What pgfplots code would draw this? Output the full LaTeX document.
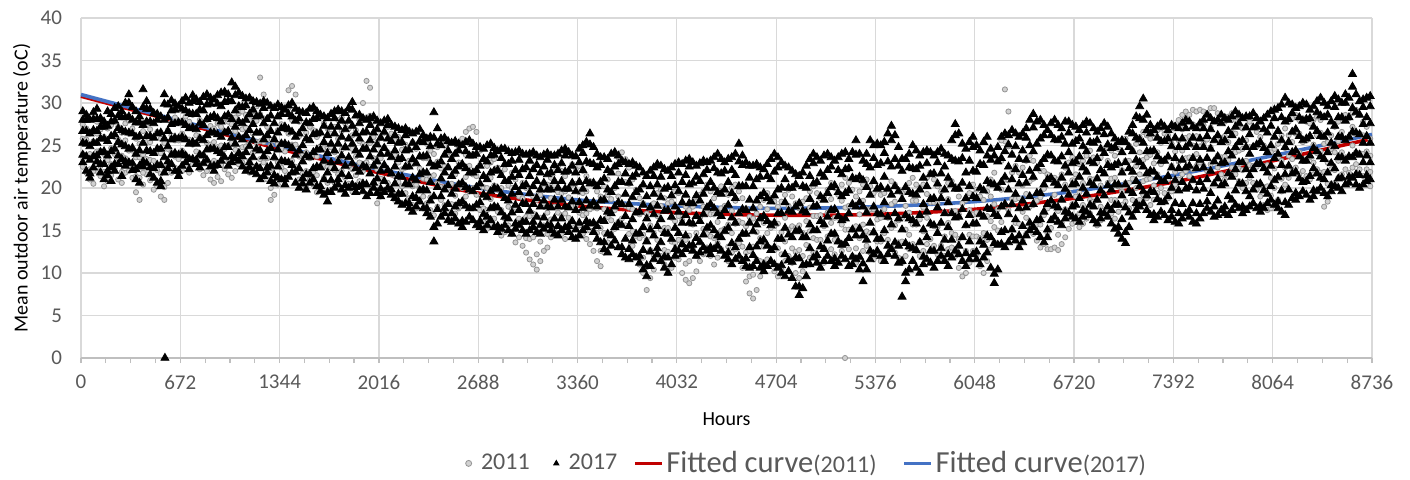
\documentclass[border=0pt]{standalone}
\usepackage{pgfplots}
\pgfplotsset{compat=1.18}
\usepackage{pgfplotstable}
\usepackage{fontspec}
\setmainfont{Carlito}

\definecolor{txt}{HTML}{595959}
\definecolor{grd}{HTML}{D9D9D9}
\definecolor{axl}{HTML}{BFBFBF}
\definecolor{fitA}{HTML}{C00000}
\definecolor{fitB}{HTML}{4472C4}

% one row per day: h = hour; a-d = 2011 readings; p-u = 2017 readings
\pgfplotstableread{
h a b c d p q r s t u
12 22.5 24.0 25.8 27.5 23.0 23.9 25.3 26.7 28.0 29.0
36 21.8 23.9 25.7 27.0 22.0 23.7 25.2 26.7 28.0 28.6
60 21.0 22.2 24.0 26.4 21.2 21.7 23.3 24.9 26.4 28.0
84 20.5 22.0 23.8 25.5 22.4 23.7 25.3 26.8 28.1 28.9
108 22.0 24.3 26.4 27.8 23.1 23.8 25.3 26.7 28.1 29.3
132 21.4 22.6 24.4 26.9 21.8 22.8 24.2 25.8 27.2 28.2
156 20.2 21.9 24.0 26.0 21.0 22.8 24.3 25.8 27.2 27.8
180 20.8 23.3 25.5 27.0 21.5 22.0 23.8 25.5 27.3 29.0
204 21.5 22.8 24.7 27.4 20.8 22.4 24.3 26.1 27.8 28.7
228 22.3 24.0 26.0 28.0 22.0 22.8 24.6 26.3 27.9 29.4
252 21.0 23.5 25.7 27.2 22.8 23.8 25.4 27.0 28.5 29.6
276 20.6 21.9 23.8 26.5 21.4 23.4 25.1 26.8 28.3 29.0
300 21.8 23.5 25.6 27.6 22.6 23.1 24.9 26.6 28.3 30.0
324 22.0 24.4 26.4 27.9 23.0 24.6 26.5 28.4 30.0 31.0
348 21.2 22.5 24.4 27.0 22.1 22.9 24.7 26.4 28.0 29.5
372 19.5 21.4 23.6 25.8 21.0 22.2 24.0 26.0 27.7 29.0
396 18.6 21.2 23.6 25.2 20.6 22.6 24.4 26.1 27.7 28.4
420 20.4 21.8 23.9 26.7 22.5 23.1 25.3 27.4 29.5 31.6
444 21.6 23.4 25.4 27.5 22.9 24.4 26.1 27.8 29.3 30.2
468 20.9 23.3 25.4 26.9 21.6 22.4 24.3 26.1 27.8 29.3
492 19.8 21.2 23.2 26.0 21.2 22.3 24.1 25.9 27.6 28.8
516 20.2 22.1 24.4 26.6 20.6 22.7 24.6 26.4 28.0 28.7
540 19.0 21.7 24.1 25.8 20.2 20.8 22.7 24.6 26.5 28.4
564 18.6 20.1 22.3 25.3 21.8 23.6 25.8 28.0 29.9 31.0
588 20.6 22.5 24.6 26.8 22.3 23.1 24.9 26.7 28.3 29.8
612 21.8 24.2 26.2 27.7 22.8 23.9 25.7 27.5 29.1 30.3
636 22.4 23.7 25.6 28.3 22.0 24.1 25.9 27.6 29.2 29.9
660 21.5 23.4 25.6 27.8 21.4 22.0 23.9 25.8 27.7 29.6
684 22.0 24.4 26.4 27.9 22.6 24.1 26.0 27.7 29.3 30.2
708 22.6 23.9 25.8 28.4 23.0 23.8 25.7 27.4 29.1 30.6
732 21.8 23.6 25.7 27.8 22.2 23.4 25.2 27.0 28.8 30.0
756 22.8 25.1 27.2 28.6 23.4 25.4 27.1 28.7 30.2 30.9
780 23.0 24.3 26.2 28.8 22.8 23.3 25.2 26.9 28.7 30.4
804 22.2 24.0 26.0 28.0 22.4 23.9 25.8 27.6 29.2 30.1
828 21.5 23.9 25.9 27.4 22.9 23.8 25.6 27.4 29.1 30.7
852 22.0 23.3 25.3 28.0 23.3 24.5 26.2 28.1 29.8 31.0
876 21.0 22.9 25.1 27.3 22.5 24.6 26.5 28.3 29.9 30.6
900 20.6 23.2 25.4 27.0 22.0 22.6 24.6 26.5 28.5 30.4
924 21.3 22.7 24.8 27.6 22.7 24.3 26.3 28.2 29.9 30.9
948 20.8 22.7 25.0 27.2 23.2 24.1 26.0 27.8 29.6 31.2
972 22.2 24.6 26.7 28.2 23.6 24.8 26.5 28.4 30.1 31.3
996 21.6 23.0 25.0 27.8 22.6 24.8 26.7 28.6 30.2 31.0
1020 21.2 23.1 25.3 27.5 23.0 23.7 25.9 28.1 30.2 32.4
1044 22.0 24.5 26.7 28.3 23.5 25.2 27.2 29.1 30.9 31.9
1068 22.8 24.1 26.1 28.8 23.2 24.1 26.0 27.8 29.6 31.2
1092 23.0 24.8 26.9 29.0 22.5 23.7 25.7 27.6 29.5 30.8
1116 22.5 24.9 27.1 28.6 22.0 24.2 26.2 28.0 29.7 30.5
1140 21.8 23.2 25.2 28.0 22.4 23.0 24.9 26.8 28.7 30.6
1164 22.4 24.2 26.4 28.5 21.9 23.6 25.6 27.5 29.2 30.2
1188 22.6 25.4 27.9 29.6 21.6 22.5 24.6 26.5 28.4 30.1
1212 23.4 25.5 28.7 33.0 21.0 22.3 24.4 26.5 28.5 29.9
1236 23.0 25.4 28.2 31.0 21.4 23.7 25.7 27.6 29.4 30.2
1260 21.0 23.5 25.7 27.2 21.8 22.4 24.3 26.2 28.1 30.0
1284 18.6 20.0 22.1 25.0 20.8 22.6 24.7 26.7 28.5 29.6
1308 19.2 21.2 23.5 25.8 20.5 21.5 23.6 25.7 27.6 29.4
1332 20.4 23.0 25.2 26.8 21.2 22.5 24.5 26.5 28.4 29.8
1356 21.0 22.4 24.6 27.5 21.0 23.2 25.2 27.0 28.7 29.5
1380 22.0 24.3 26.9 29.5 20.4 21.0 23.1 25.2 27.2 29.2
1404 23.0 26.4 29.4 31.5 21.3 23.0 25.0 26.9 28.7 29.7
1428 23.2 25.1 28.0 32.0 21.8 22.7 24.7 26.6 28.4 30.0
1452 22.5 25.1 28.0 31.0 20.6 21.9 23.9 26.0 27.9 29.3
1476 21.0 23.7 26.1 27.8 20.0 22.3 24.4 26.4 28.2 29.0
1500 20.2 21.7 24.0 27.0 20.5 21.1 23.1 25.0 27.0 28.9
1524 20.0 22.0 24.2 26.5 19.8 21.6 23.8 25.8 27.7 28.8
1548 21.0 23.5 25.7 27.2 20.6 21.6 23.6 25.6 27.6 29.3
1572 20.4 21.8 23.9 26.8 21.0 22.3 24.2 26.3 28.1 29.5
1596 19.5 21.5 23.7 26.0 20.2 22.5 24.5 26.4 28.2 29.0
1620 20.0 22.6 24.9 26.5 19.6 20.2 22.4 24.5 26.5 28.6
1644 21.2 22.6 24.7 27.6 19.2 21.0 23.2 25.4 27.3 28.4
1668 20.6 22.5 24.8 27.0 18.4 19.5 21.8 24.1 26.2 28.2
1692 19.8 22.4 24.8 26.4 19.5 20.9 23.0 25.2 27.2 28.7
1716 20.6 22.1 24.2 27.2 20.0 22.3 24.4 26.4 28.2 29.0
1740 21.6 23.5 25.8 28.0 20.4 21.0 23.1 25.2 27.2 29.2
1764 22.0 24.5 26.7 28.3 19.8 21.6 23.8 26.0 27.9 29.0
1788 21.2 22.6 24.7 27.6 19.3 20.3 22.6 24.8 26.9 28.8
1812 20.5 22.5 24.7 27.0 20.0 21.4 23.6 25.8 27.9 29.4
1836 19.6 22.2 24.6 26.2 20.4 22.9 25.2 27.3 29.2 30.1
1860 20.0 21.5 23.7 26.8 19.5 20.1 22.3 24.4 26.4 28.5
1884 20.8 23.0 25.5 28.0 20.2 21.9 23.9 25.8 27.6 28.6
1908 22.0 25.2 28.0 30.0 19.6 20.5 22.6 24.6 26.5 28.2
1932 23.0 25.1 28.3 32.6 19.0 20.4 22.4 24.6 26.6 28.0
1956 22.5 25.3 28.5 31.8 19.4 21.7 23.7 25.6 27.4 28.2
1980 20.6 23.5 26.0 27.8 20.0 20.6 22.6 24.5 26.5 28.4
2004 18.2 19.8 22.2 25.4 19.4 21.1 23.1 25.1 26.9 27.9
2028 19.0 21.1 23.5 25.9 19.0 19.9 22.0 24.0 25.9 27.6
2052 19.8 22.5 24.8 26.5 19.5 20.8 22.7 24.7 26.6 27.9
2076 20.6 22.1 24.2 27.2 20.0 22.1 24.0 25.8 27.4 28.1
2100 19.6 21.6 24.0 26.4 19.2 19.8 21.7 23.6 25.5 27.4
2124 18.6 21.4 23.9 25.6 18.8 20.5 22.5 24.4 26.2 27.2
2148 19.2 20.7 23.0 26.0 18.4 19.3 21.4 23.4 25.3 27.0
2172 20.2 22.2 24.5 26.8 18.0 19.3 21.3 23.5 25.4 26.8
2196 19.4 22.4 25.1 27.0 18.2 20.5 22.5 24.4 26.2 27.0
2220 18.8 20.6 23.2 26.8 17.6 18.2 20.4 22.5 24.5 26.6
2244 18.0 20.2 22.8 25.4 17.2 19.0 21.2 23.4 25.3 26.4
2268 17.6 20.4 22.9 24.6 17.8 18.8 20.9 22.9 24.8 26.6
2292 18.4 19.9 22.3 25.4 18.4 19.7 21.6 23.7 25.5 26.9
2316 19.0 21.1 23.5 25.9 17.6 19.8 21.8 23.7 25.4 26.2
2340 18.2 21.0 23.5 25.2 17.0 17.6 19.7 21.8 23.8 25.8
2364 17.4 18.9 21.3 24.4 16.6 18.5 20.7 22.9 24.9 26.0
2388 16.8 19.0 21.5 24.0 13.7 15.4 19.0 22.5 25.9 28.9
2412 17.8 20.6 23.1 24.8 15.8 17.5 20.1 22.7 25.2 27.0
2436 18.6 20.1 22.3 25.4 16.6 19.0 21.1 23.1 25.0 25.8
2460 18.0 20.1 22.6 25.0 17.0 17.6 19.8 21.8 23.9 25.9
2484 17.2 20.0 22.5 24.2 16.2 18.1 20.3 22.4 24.4 25.5
2508 16.6 18.1 20.5 23.6 16.0 17.0 19.3 21.4 23.4 25.3
2532 17.0 19.1 21.6 24.0 16.4 17.8 19.9 22.0 24.0 25.5
2556 17.6 20.5 23.0 24.8 15.8 18.2 20.4 22.5 24.4 25.2
2580 18.4 20.0 22.5 25.8 15.4 16.1 18.4 20.6 22.8 25.0
2604 19.0 21.3 23.9 26.6 16.0 17.9 20.1 22.3 24.3 25.4
2628 19.6 22.6 25.2 27.0 16.6 17.6 19.8 21.8 23.8 25.6
2652 20.0 21.6 24.0 27.2 16.2 17.6 19.6 21.8 23.8 25.2
2676 19.2 21.4 24.0 26.6 15.6 18.0 20.1 22.1 24.0 24.8
2700 17.4 20.2 22.7 24.4 15.4 16.1 18.3 20.5 22.6 24.8
2724 16.0 17.6 20.1 23.4 15.0 16.9 19.2 21.4 23.4 24.6
2748 15.2 17.4 20.0 22.6 15.6 16.6 18.9 21.0 23.1 25.0
2772 15.8 18.7 21.2 23.0 16.2 17.6 19.6 21.8 23.8 25.2
2796 16.4 17.9 20.3 23.4 15.4 17.8 20.0 22.0 23.9 24.7
2820 15.0 17.2 19.8 22.4 14.8 15.5 17.7 19.9 22.1 24.3
2844 14.4 17.4 20.0 21.8 15.2 17.1 19.3 21.5 23.5 24.6
2868 14.8 16.4 18.9 22.2 15.6 16.6 18.8 20.8 22.8 24.6
2892 15.6 17.8 20.3 22.8 15.0 16.4 18.5 20.8 22.8 24.3
2916 14.6 17.5 20.0 21.8 14.6 17.1 19.3 21.3 23.2 24.1
2940 13.6 15.2 17.7 21.0 15.2 15.8 18.0 20.1 22.1 24.2
2964 14.2 16.4 19.0 21.6 15.6 17.4 19.5 21.5 23.3 24.4
2988 13.2 16.2 18.8 20.6 15.0 16.0 18.2 20.2 22.2 24.0
3012 12.4 14.1 16.6 20.0 14.6 16.0 18.1 20.4 22.4 23.9
3036 11.6 14.0 16.7 19.4 15.0 17.3 19.4 21.4 23.2 24.0
3060 11.0 14.2 17.0 19.0 15.4 16.0 18.1 20.2 22.2 24.2
3084 10.4 12.2 14.9 18.6 14.8 16.6 18.8 20.8 22.7 23.8
3108 11.4 13.7 16.5 19.2 14.6 15.6 17.8 19.8 21.8 23.6
3132 12.6 15.6 18.2 20.0 15.2 16.5 18.5 20.6 22.5 23.9
3156 13.0 14.6 17.1 20.4 15.6 17.8 19.8 21.6 23.3 24.1
3180 14.2 16.3 18.8 21.2 15.0 15.6 17.7 19.8 21.8 23.8
3204 15.0 17.8 20.3 22.0 14.6 16.4 18.6 20.8 22.7 23.8
3228 15.6 17.1 19.5 22.6 14.4 15.5 17.8 20.0 22.1 24.0
3252 14.6 16.8 19.4 22.0 15.0 16.4 18.6 20.8 22.9 24.4
3276 14.0 17.0 19.6 21.4 15.4 17.8 19.9 21.9 23.8 24.6
3300 15.0 16.5 18.9 22.0 14.8 15.5 17.7 19.9 22.0 24.2
3324 15.8 17.9 20.4 22.8 14.2 16.1 18.4 20.6 22.6 23.8
3348 15.2 18.0 20.5 22.2 14.0 15.1 17.4 19.6 21.8 23.7
3372 15.6 17.1 19.5 22.6 14.4 15.9 18.3 20.7 23.0 24.6
3396 14.6 16.8 19.4 22.0 15.0 17.6 19.9 22.1 24.1 25.0
3420 14.0 17.0 19.6 21.4 15.4 16.1 18.5 20.8 23.1 25.4
3444 13.4 15.0 17.5 20.8 15.8 17.9 20.5 22.9 25.1 26.4
3468 12.6 15.0 17.7 20.4 14.8 15.9 18.3 20.6 22.8 24.8
3492 11.4 14.7 17.6 19.6 14.0 15.5 17.8 20.2 22.4 24.0
3516 10.8 12.6 15.3 19.0 13.6 16.2 18.5 20.7 22.7 23.6
3540 12.4 14.7 17.5 20.2 12.8 13.6 16.1 18.6 21.1 23.6
3564 13.6 16.6 19.2 21.0 12.4 14.6 17.2 19.8 22.1 23.4
3588 14.6 16.2 18.7 22.0 13.2 14.4 17.0 19.5 21.8 24.0
3612 15.2 17.4 20.0 22.6 13.8 15.4 17.8 20.2 22.5 24.2
3636 16.0 19.0 21.7 23.6 13.0 15.8 18.3 20.7 22.8 23.8
3660 16.4 18.1 20.7 24.2 12.2 13.0 15.6 18.1 20.7 23.2
3684 15.6 17.9 20.7 23.4 11.8 14.0 16.7 19.3 21.7 23.0
3708 14.6 17.7 20.5 22.4 11.6 12.8 15.5 18.1 20.6 22.8
3732 13.2 14.9 17.5 21.0 12.2 13.8 16.3 18.9 21.3 23.0
3756 12.0 14.3 17.1 19.8 11.8 14.6 17.1 19.5 21.6 22.6
3780 11.0 14.1 16.9 18.8 11.2 12.0 14.7 17.2 19.8 22.4
3804 10.0 11.8 14.5 18.2 10.4 12.7 15.4 18.0 20.4 21.8
3828 8.0 10.7 13.9 17.0 9.6 10.9 13.7 16.4 19.0 21.4
3852 9.4 12.7 15.6 17.6 10.8 12.5 15.1 17.7 20.2 22.0
3876 10.4 12.1 14.7 18.2 11.6 14.4 16.9 19.3 21.4 22.4
3900 11.6 13.9 16.7 19.4 12.2 12.9 15.5 17.9 20.4 22.8
3924 12.0 15.1 17.9 19.8 11.4 13.6 16.3 18.9 21.3 22.6
3948 11.0 12.7 15.3 18.8 10.6 11.9 14.7 17.3 19.9 22.2
3972 10.0 12.5 15.3 18.2 10.0 11.8 14.6 17.4 20.1 22.0
3996 10.6 13.7 16.5 18.4 11.0 14.0 16.6 19.1 21.4 22.4
4020 11.8 13.5 16.1 19.6 12.0 12.8 15.3 17.8 20.3 22.8
4044 11.6 13.9 16.7 19.4 12.6 14.7 17.2 19.6 21.8 23.0
4068 10.0 13.3 16.2 18.2 12.2 13.4 15.9 18.3 20.7 22.8
4092 9.2 11.1 13.9 17.8 12.8 14.4 16.8 19.2 21.5 23.2
4116 8.8 11.4 14.4 17.4 13.2 15.9 18.2 20.4 22.5 23.4
4140 9.4 12.8 15.7 17.8 12.6 13.3 15.8 18.2 20.6 23.0
4164 10.2 12.0 14.7 18.4 12.0 14.1 16.7 19.1 21.3 22.6
4188 11.4 13.7 16.5 19.2 12.4 13.6 16.1 18.5 20.8 22.9
4212 12.2 15.2 17.8 19.6 13.0 14.5 16.9 19.3 21.6 23.2
4236 13.0 14.6 17.1 20.4 12.6 15.3 17.7 20.0 22.1 23.0
4260 12.0 14.3 16.9 19.6 12.2 13.0 15.6 18.1 20.7 23.2
4284 11.0 14.1 16.9 18.8 12.8 15.0 17.6 20.0 22.3 23.6
4308 11.8 13.5 16.0 19.4 13.2 14.4 17.0 19.5 21.8 24.0
4332 12.8 15.0 17.6 20.2 12.6 14.2 16.7 19.3 21.7 23.4
4356 12.2 15.2 17.9 19.8 12.0 14.9 17.4 19.8 22.0 23.0
4380 11.4 13.1 15.7 19.2 11.6 12.4 15.3 18.0 20.7 23.4
4404 12.4 14.7 17.3 20.0 11.0 13.5 16.5 19.4 22.1 23.6
4428 12.8 15.8 18.5 20.4 11.6 13.0 15.9 18.8 21.5 24.0
4452 11.8 13.5 16.1 19.6 12.0 14.0 17.0 20.2 23.1 25.2
4476 10.6 13.1 15.9 18.8 11.4 14.6 17.5 20.2 22.7 23.8
4500 9.0 12.4 15.5 17.6 10.8 11.7 14.6 17.4 20.2 23.0
4524 7.6 9.6 12.6 16.6 10.6 13.0 15.9 18.6 21.2 22.6
4548 7.0 9.8 13.1 16.4 10.8 12.1 14.9 17.6 20.2 22.6
4572 8.0 11.6 14.8 17.0 11.4 13.1 15.7 18.5 21.0 22.8
4596 9.6 11.4 14.1 17.8 10.6 13.7 16.4 19.0 21.3 22.4
4620 10.8 13.1 15.9 18.6 10.2 11.0 13.9 16.7 19.4 22.2
4644 11.6 14.7 17.5 19.4 10.8 13.2 16.1 18.8 21.4 22.8
4668 11.0 12.7 15.3 18.8 11.4 12.7 15.6 18.4 21.0 23.4
4692 10.2 12.7 15.5 18.4 11.0 13.0 15.9 19.1 21.9 24.0
4716 9.6 12.9 15.8 17.8 10.6 14.0 17.0 19.8 22.4 23.6
4740 10.4 12.2 14.8 18.4 10.0 10.9 14.0 17.0 20.0 23.0
4764 11.4 13.7 16.5 19.2 9.6 12.2 15.3 18.3 21.0 22.6
4788 12.0 15.1 17.9 19.8 10.2 11.5 14.5 17.3 20.0 22.4
4812 11.2 12.9 15.5 19.0 9.4 11.3 14.2 17.2 20.0 22.0
4836 10.0 12.5 15.3 18.2 8.4 11.8 14.9 17.8 20.4 21.6
4860 9.4 12.7 15.6 17.6 7.4 8.4 11.7 15.0 18.2 21.4
4884 10.2 12.0 14.7 18.4 8.2 10.9 14.2 17.3 20.2 21.8
4908 11.0 13.3 16.1 18.8 9.6 11.0 14.2 17.1 20.0 22.6
4932 11.8 14.9 17.7 19.6 11.0 12.9 15.7 18.7 21.4 23.4
4956 12.4 14.1 16.7 20.2 11.8 15.0 17.8 20.5 22.9 24.0
4980 11.6 13.9 16.7 19.4 11.2 12.1 15.0 17.9 20.7 23.6
5004 10.6 13.9 16.8 18.8 10.6 13.1 16.1 19.0 21.7 23.2
5028 11.2 12.9 15.5 19.0 11.4 12.8 15.7 18.6 21.3 23.8
5052 12.0 14.3 17.1 19.8 12.0 13.8 16.6 19.4 22.1 24.0
5076 12.8 15.9 18.7 20.6 11.4 14.6 17.4 20.1 22.5 23.6
5100 12.2 13.9 16.5 20.0 10.8 11.7 14.6 17.5 20.3 23.2
5124 11.4 13.7 16.5 19.2 11.2 13.7 16.7 19.5 22.1 23.6
5148 12.6 15.7 18.5 20.4 12.0 13.3 16.2 19.0 21.6 24.0
5172 13.4 15.1 17.7 21.2 11.6 13.5 16.4 19.4 22.2 24.2
5196 12.8 15.1 17.9 20.6 10.8 14.1 17.0 19.7 22.3 23.4
5220 12.0 15.1 17.9 19.8 11.0 11.9 15.1 18.1 21.2 24.2
5244 11.2 12.9 15.5 19.0 11.6 14.4 17.8 21.0 23.9 25.6
5268 11.8 14.1 16.9 19.6 10.4 11.9 15.2 18.3 21.3 24.0
5292 12.6 15.7 18.5 20.4 9.0 11.1 14.4 17.8 20.9 23.2
5316 13.2 14.9 17.5 21.0 10.4 13.9 17.1 20.1 22.8 24.0
5340 12.4 14.7 17.5 20.2 11.6 12.6 15.9 19.2 22.4 25.6
5364 11.6 14.7 17.5 19.4 12.2 14.8 17.8 20.8 23.5 25.0
5388 12.0 13.7 16.3 19.8 12.6 14.0 17.0 19.9 22.7 25.2
5412 11.4 13.7 16.5 19.2 12.0 14.0 16.9 20.1 22.9 25.0
5436 11.6 14.7 17.5 19.4 11.4 15.0 18.3 21.3 24.1 25.4
5460 12.2 13.9 16.5 20.0 12.2 13.2 16.6 19.9 23.1 26.4
5484 13.0 15.3 18.1 20.8 12.8 15.7 19.2 22.5 25.6 27.3
5508 12.4 15.6 18.4 20.4 12.0 13.6 17.0 20.2 23.4 26.2
5532 11.8 13.6 16.2 19.8 11.2 13.2 16.4 19.6 22.6 24.8
5556 11.2 13.7 16.5 19.4 7.2 11.4 15.1 18.7 22.0 23.4
5580 12.0 15.1 17.9 19.8 9.0 10.0 13.5 16.8 20.1 23.4
5604 12.8 14.5 17.1 20.6 10.4 13.1 16.4 19.5 22.4 24.0
5628 13.4 15.7 18.5 21.2 11.4 12.9 16.2 19.3 22.3 25.0
5652 12.6 15.7 18.5 20.4 10.6 12.7 15.8 19.2 22.2 24.4
5676 12.0 13.7 16.3 19.8 10.0 13.6 16.8 19.8 22.6 23.8
5700 12.6 14.9 17.7 20.4 11.0 11.9 15.1 18.1 21.2 24.2
5724 13.4 16.5 19.3 21.2 11.6 14.2 17.2 20.2 22.9 24.4
5748 14.0 15.7 18.3 21.8 11.2 12.6 15.8 18.7 21.6 24.2
5772 13.2 15.5 18.3 21.0 10.6 12.6 15.6 18.8 21.7 23.8
5796 12.2 15.4 18.2 20.2 11.4 14.7 17.7 20.5 23.0 24.2
5820 11.4 13.2 15.9 19.6 12.0 12.9 15.9 18.8 21.7 24.6
5844 12.0 14.3 17.1 19.8 11.4 13.9 17.0 19.8 22.5 24.0
5868 12.8 15.9 18.7 20.6 10.8 12.2 15.4 18.3 21.2 23.8
5892 13.0 14.7 17.3 20.8 11.8 13.9 17.0 20.4 23.4 25.6
5916 12.0 14.5 17.3 20.2 12.6 16.5 19.9 23.2 26.2 27.5
5940 10.6 14.0 16.9 19.0 12.2 13.2 16.6 19.9 23.1 26.4
5964 9.6 11.5 14.3 18.2 11.4 14.2 17.5 20.6 23.5 25.2
5988 10.0 12.6 15.6 18.6 10.8 12.3 15.6 18.8 21.8 24.6
6012 11.2 14.5 17.4 19.4 11.6 13.7 16.8 20.2 23.2 25.4
6036 12.6 14.3 16.9 20.4 12.2 15.8 19.0 22.0 24.8 26.0
6060 12.0 14.3 17.1 19.8 11.6 12.5 15.8 18.8 21.9 25.0
6084 10.8 14.1 17.0 19.0 11.0 13.7 16.9 20.0 22.8 24.4
6108 10.0 11.9 14.7 18.6 11.8 13.3 16.6 19.7 22.7 25.4
6132 11.4 13.9 16.7 19.6 12.4 14.4 17.6 20.8 23.8 26.0
6156 12.8 16.1 19.0 21.0 10.6 14.2 17.5 20.5 23.3 24.6
6180 13.6 15.4 18.1 21.8 8.8 9.9 13.5 16.9 20.4 23.8
6204 15.0 17.5 20.3 23.2 10.4 13.3 16.7 20.0 23.1 24.8
6228 16.0 19.8 23.2 25.6 13.4 14.8 17.8 20.7 23.5 26.0
6252 18.0 21.0 25.5 31.6 13.0 15.0 18.1 21.3 24.3 26.4
6276 17.4 20.9 24.9 29.0 13.6 16.9 19.8 22.5 25.1 26.2
6300 15.2 18.7 21.8 24.0 14.2 15.1 18.1 21.0 23.9 26.8
6324 14.0 15.9 18.7 22.6 13.8 16.3 19.3 22.2 24.9 26.4
6348 13.2 15.8 18.8 21.8 13.0 14.4 17.6 20.5 23.4 26.0
6372 13.8 17.2 20.3 22.4 13.6 15.5 18.5 21.5 24.4 26.4
6396 14.6 16.5 19.3 23.2 14.4 17.7 20.6 23.3 25.9 27.0
6420 15.2 17.8 20.8 23.8 15.0 15.9 19.0 22.0 25.0 28.0
6444 14.6 18.0 21.1 23.2 15.4 18.1 21.3 24.3 27.1 28.7
6468 13.8 15.7 18.5 22.4 14.8 16.2 19.4 22.3 25.2 27.8
6492 13.0 15.7 18.9 22.0 14.2 16.3 19.4 22.8 25.8 28.0
6516 13.4 16.8 19.9 22.0 13.6 17.2 20.4 23.4 26.2 27.4
6540 12.8 14.7 17.6 21.6 14.2 15.1 18.1 21.0 23.9 26.8
6564 12.8 15.3 18.1 21.0 16.2 18.5 21.2 23.8 26.2 27.6
6588 13.0 16.3 19.2 21.2 16.6 17.9 20.6 23.2 25.7 28.0
6612 12.7 14.5 17.3 21.0 16.0 17.7 20.3 23.1 25.6 27.4
6636 13.4 15.9 18.7 21.6 15.6 18.6 21.2 23.7 26.0 27.0
6660 14.2 17.5 20.4 22.4 16.4 17.2 19.9 22.6 25.2 27.8
6684 15.2 16.9 19.5 23.0 17.0 19.2 21.8 24.2 26.5 27.8
6708 15.8 18.1 20.9 23.6 16.6 17.8 20.4 22.9 25.2 27.4
6732 16.0 19.0 21.6 23.4 16.4 18.0 20.5 23.1 25.5 27.2
6756 15.4 17.0 19.5 22.8 16.0 18.8 21.3 23.7 25.8 26.8
6780 15.8 18.0 20.6 23.2 16.6 17.4 20.0 22.4 24.9 27.4
6804 16.4 19.4 22.0 23.8 17.2 19.3 21.9 24.3 26.5 27.8
6828 17.0 18.6 21.1 24.4 16.8 18.0 20.6 23.1 25.4 27.6
6852 16.2 18.4 21.0 23.6 16.2 17.8 20.3 22.9 25.3 27.0
6876 15.6 18.6 21.2 23.0 15.8 18.6 21.1 23.5 25.6 26.6
6900 16.2 17.8 20.3 23.6 16.4 17.1 19.7 22.1 24.6 27.0
6924 17.0 19.2 21.8 24.4 17.0 19.1 21.7 24.1 26.3 27.6
6948 17.6 20.6 23.2 25.0 16.6 17.8 20.3 22.7 25.1 27.2
6972 17.0 18.6 21.1 24.4 15.8 17.4 19.8 22.4 24.7 26.4
6996 16.4 18.6 21.2 23.8 15.2 18.0 20.4 22.7 24.8 25.8
7020 17.2 20.2 22.8 24.6 14.6 15.4 18.0 20.4 22.9 25.4
7044 18.0 19.6 22.1 25.4 14.0 16.3 19.1 21.8 24.2 25.6
7068 18.4 20.6 23.2 25.8 13.5 14.8 17.7 20.4 23.0 25.4
7092 17.6 20.6 23.2 25.0 15.4 17.1 19.7 22.3 24.8 26.6
7116 17.0 18.6 21.1 24.4 16.6 19.4 21.9 24.3 26.4 27.4
7140 17.8 20.0 22.6 25.2 17.4 18.2 20.8 23.3 25.9 28.4
7164 18.6 21.6 24.2 26.0 17.8 20.2 23.0 25.7 28.2 29.6
7188 19.2 20.8 23.3 26.6 18.2 19.6 22.5 25.3 28.0 30.5
7212 18.8 21.0 23.6 26.2 17.4 19.1 21.7 24.3 26.8 28.6
7236 18.0 21.1 23.9 25.8 16.8 19.6 22.0 24.3 26.4 27.4
7260 18.6 20.3 22.9 26.4 16.2 16.9 19.5 21.9 24.4 26.8
7284 19.4 21.6 24.2 26.8 16.6 18.7 21.3 23.7 25.9 27.2
7308 20.0 22.8 25.3 27.0 17.2 18.3 20.8 23.2 25.5 27.6
7332 19.4 20.9 23.3 26.4 16.8 18.4 20.8 23.2 25.5 27.2
7356 18.8 21.0 23.6 26.2 16.2 19.0 21.4 23.7 25.8 26.8
7380 19.6 22.6 25.2 27.0 16.6 17.4 20.0 22.4 24.9 27.4
7404 20.4 21.9 24.3 27.4 16.0 18.2 20.9 23.5 25.9 27.2
7428 21.0 23.1 25.6 28.0 15.8 17.0 19.7 22.3 24.8 27.0
7452 21.6 24.4 26.9 28.6 16.4 18.1 20.7 23.3 25.8 27.6
7476 22.0 23.5 25.9 29.0 17.0 19.9 22.4 24.8 27.0 28.0
7500 21.4 23.6 26.1 28.6 16.6 17.4 20.1 22.6 25.2 27.8
7524 22.2 25.0 27.5 29.2 16.0 18.2 20.9 23.5 25.9 27.2
7548 22.6 24.0 26.1 29.0 15.8 17.0 19.7 22.3 24.8 27.0
7572 23.0 24.9 27.0 29.2 16.4 18.1 20.7 23.3 25.8 27.6
7596 22.6 25.2 27.4 29.0 17.0 19.9 22.4 24.8 27.0 28.0
7620 22.0 23.5 25.7 28.8 17.6 18.4 21.0 23.5 26.1 28.6
7644 22.8 24.8 27.1 29.4 17.2 19.4 22.0 24.6 26.9 28.2
7668 23.2 25.7 27.9 29.4 16.6 17.8 20.5 23.1 25.6 27.8
7692 22.4 23.8 25.9 28.8 16.8 18.5 21.1 23.7 26.2 28.0
7716 21.6 23.6 25.9 28.2 17.4 20.3 22.9 25.4 27.6 28.6
7740 21.0 23.7 26.1 27.8 17.0 17.8 20.5 23.0 25.6 28.2
7764 21.8 23.3 25.4 28.4 16.8 19.0 21.7 24.3 26.7 28.0
7788 22.4 24.3 26.6 28.8 17.4 18.6 21.3 23.8 26.2 28.4
7812 21.6 24.2 26.4 28.0 18.0 19.7 22.2 24.8 27.2 29.0
7836 20.8 22.3 24.4 27.4 17.6 20.5 23.0 25.4 27.6 28.6
7860 20.0 22.1 24.6 27.0 17.0 17.8 20.5 23.0 25.6 28.2
7884 20.6 23.2 25.6 27.2 17.4 19.6 22.2 24.8 27.1 28.4
7908 21.2 22.7 24.8 27.8 17.8 19.0 21.5 24.0 26.3 28.4
7932 20.6 22.6 24.9 27.2 18.2 19.8 22.2 24.8 27.1 28.8
7956 19.8 22.5 24.9 26.6 17.6 20.4 22.8 25.1 27.2 28.2
7980 19.0 20.5 22.9 26.0 17.2 17.9 20.5 22.9 25.4 27.8
8004 18.0 20.1 22.6 25.0 17.6 19.7 22.3 24.7 26.9 28.2
8028 17.4 20.2 22.7 24.4 18.2 19.3 21.8 24.2 26.5 28.6
8052 17.6 19.1 21.2 24.2 18.6 20.2 22.6 25.0 27.3 29.0
8076 18.0 20.0 22.3 24.6 18.0 20.9 23.5 26.0 28.2 29.2
8100 18.6 21.2 23.6 25.2 17.6 18.4 21.3 24.0 26.7 29.4
8124 19.6 21.1 23.2 26.2 17.2 19.7 22.7 25.6 28.3 29.8
8148 20.4 22.4 24.7 27.0 16.8 18.3 21.6 24.8 27.8 30.6
8172 21.2 23.8 26.2 27.8 18.0 19.8 22.6 25.4 28.1 30.0
8196 22.0 23.4 25.4 28.2 18.8 21.7 24.2 26.6 28.8 29.8
8220 22.4 24.3 26.4 28.6 18.6 19.4 21.9 24.4 26.9 29.4
8244 21.6 24.2 26.4 28.0 19.0 21.1 23.7 26.1 28.3 29.6
8268 22.0 23.4 25.4 28.2 19.6 20.7 23.2 25.6 27.9 30.0
8292 21.4 23.3 25.6 27.8 19.2 20.8 23.2 25.8 28.1 29.8
8316 21.0 23.6 26.0 27.6 18.6 21.4 23.8 26.1 28.2 29.2
8340 21.6 23.0 25.1 28.0 19.0 19.7 22.3 24.7 27.2 29.6
8364 22.2 24.1 26.2 28.4 19.6 21.7 24.3 26.7 28.9 30.2
8388 21.8 24.3 26.5 28.0 20.0 21.2 23.7 26.1 28.5 30.6
8412 17.8 19.4 21.9 25.2 19.4 21.0 23.4 26.0 28.3 30.0
8436 18.4 20.5 23.0 25.4 19.0 21.8 24.2 26.5 28.6 29.6
8460 19.6 22.2 24.6 26.2 19.6 20.3 22.9 25.3 27.8 30.2
8484 20.6 22.1 24.2 27.2 20.2 22.3 24.9 27.3 29.5 30.8
8508 21.2 23.2 25.5 27.8 20.0 21.1 23.6 26.0 28.3 30.4
8532 21.6 24.2 26.6 28.2 19.6 21.2 23.6 26.0 28.3 30.0
8556 22.2 23.6 25.7 28.6 20.4 23.2 25.6 27.9 30.0 31.0
8580 21.8 23.7 26.0 28.2 20.6 21.3 23.7 26.0 28.3 30.6
8604 22.4 25.0 27.2 28.8 21.2 23.6 26.6 29.4 31.9 33.4
8628 22.8 24.2 26.3 29.2 20.4 21.6 24.1 26.5 28.9 31.0
8652 22.2 24.1 26.4 28.6 20.0 21.5 23.9 26.3 28.6 30.2
8676 21.4 24.0 26.2 27.8 20.4 23.0 25.3 27.5 29.5 30.4
8700 20.8 22.2 24.3 27.2 20.8 21.5 23.8 26.1 28.3 30.6
8724 20.2 21.9 23.8 25.8 21.0 23.0 25.3 27.6 29.6 30.8
}\temps

\pgfplotsset{
  pts11/.style={only marks, mark=*, mark size=1.3pt,
    mark options={draw=black!42, fill=black!18, line width=0.4pt}},
  pts17/.style={only marks, mark=triangle*, mark size=2.3pt, black},
  markleg/.style={legend image code/.code={
    \node[draw=none, fill=none, inner sep=0pt, minimum width=7.5pt,
      minimum height=1pt, anchor=west] at (0pt,0pt) {};
    \draw[##1, mark size=1.5pt] plot coordinates {(3pt,0pt)};}},
  lineleg/.style={legend image code/.code={
    \draw[##1, line width=1.5pt] (0pt,0pt) -- (13.5pt,0pt);}},
}

\begin{document}
\begin{tikzpicture}
\useasboundingbox (-40.5pt,-60.5pt) rectangle (664.5pt,179pt);
\begin{axis}[
  at={(0pt,0pt)}, anchor=south west,
  scale only axis, width=645.5pt, height=170pt,
  xmin=0, xmax=8736, ymin=0, ymax=40,
  xtick={0,672,...,8736}, ytick={0,5,...,40},
  minor x tick num=3,
  /pgf/number format/1000 sep={},
  /pgf/number format/assume math mode=true,
  axis x line*=bottom, axis y line*=left,
  x axis line style={draw=axl, line width=0.6pt},
  y axis line style={draw=none},
  grid=major, major grid style={draw=grd, line width=0.6pt},
  tick align=outside, major tick length=2.5pt, minor tick length=2.5pt,
  x tick style={draw=axl, line width=0.6pt},
  minor x tick style={draw=axl, line width=0.6pt},
  y tick style={draw=none},
  tick label style={font=\fontsize{10.5}{12}\selectfont, text=txt},
  x tick label style={yshift=-2.5pt},
  y tick label style={xshift=-3.5pt},
  xlabel={Hours},
  ylabel={Mean outdoor air temperature (oC)},
  label style={font=\fontsize{11.4}{13}\selectfont, text=txt},
  every axis x label/.style={at={(axis description cs:0.5,-0.18)}, anchor=center},
  every axis y label/.style={at={(axis description cs:-0.0457,0.5)}, rotate=90, anchor=center},
  clip=false,
  legend columns=4,
  legend style={draw=none, fill=none, at={(axis description cs:0.5616,-0.31)},
    anchor=center, font=\fontsize{12}{14}\selectfont, text=txt,
    nodes={inner xsep=1.5pt},
    /tikz/every even column/.append style={column sep=6.5pt}},
]
\addplot[pts11, markleg] table[x=h, y=a] {\temps};
\addlegendentry{2011\rule{2.5pt}{0pt}}
\addplot[pts11, forget plot] table[x=h, y=b] {\temps};
\addplot[pts11, forget plot] table[x=h, y=c] {\temps};
\addplot[pts11, forget plot] table[x=h, y=d] {\temps};
\addplot[pts11, forget plot] coordinates {(5170,0)};

\addplot[pts17, markleg] table[x=h, y=p] {\temps};
\addlegendentry{2017}
\addplot[pts17, forget plot] table[x=h, y=q] {\temps};
\addplot[pts17, forget plot] table[x=h, y=r] {\temps};
\addplot[pts17, forget plot] table[x=h, y=s] {\temps};
\addplot[pts17, forget plot] table[x=h, y=t] {\temps};
\addplot[pts17, forget plot] table[x=h, y=u] {\temps};
\addplot[pts17, forget plot] coordinates {(568,0)};

\addplot[fitA, line width=1.8pt, smooth, lineleg] coordinates {
  (0,30.8) (672,27.7) (1344,24.6) (2016,21.8) (2688,19.4) (3360,17.9)
  (4032,17.1) (4704,16.8) (5376,16.9) (6048,17.5) (6720,18.8)
  (7392,20.7) (8064,23.2) (8736,25.8)};
\addlegendentry{{\fontsize{15.3}{17}\selectfont Fitted curve}(2011)\rule{5pt}{0pt}}
\addplot[fitB, line width=1.8pt, smooth, lineleg] coordinates {
  (0,31.0) (672,27.9) (1344,24.9) (2016,22.2) (2688,20.0) (3360,18.6)
  (4032,17.9) (4704,17.6) (5376,17.8) (6048,18.4) (6720,19.6)
  (7392,21.5) (8064,23.8) (8736,26.3)};
\addlegendentry{{\fontsize{15.3}{17}\selectfont Fitted curve}(2017)}
\end{axis}
\end{tikzpicture}
\end{document}
